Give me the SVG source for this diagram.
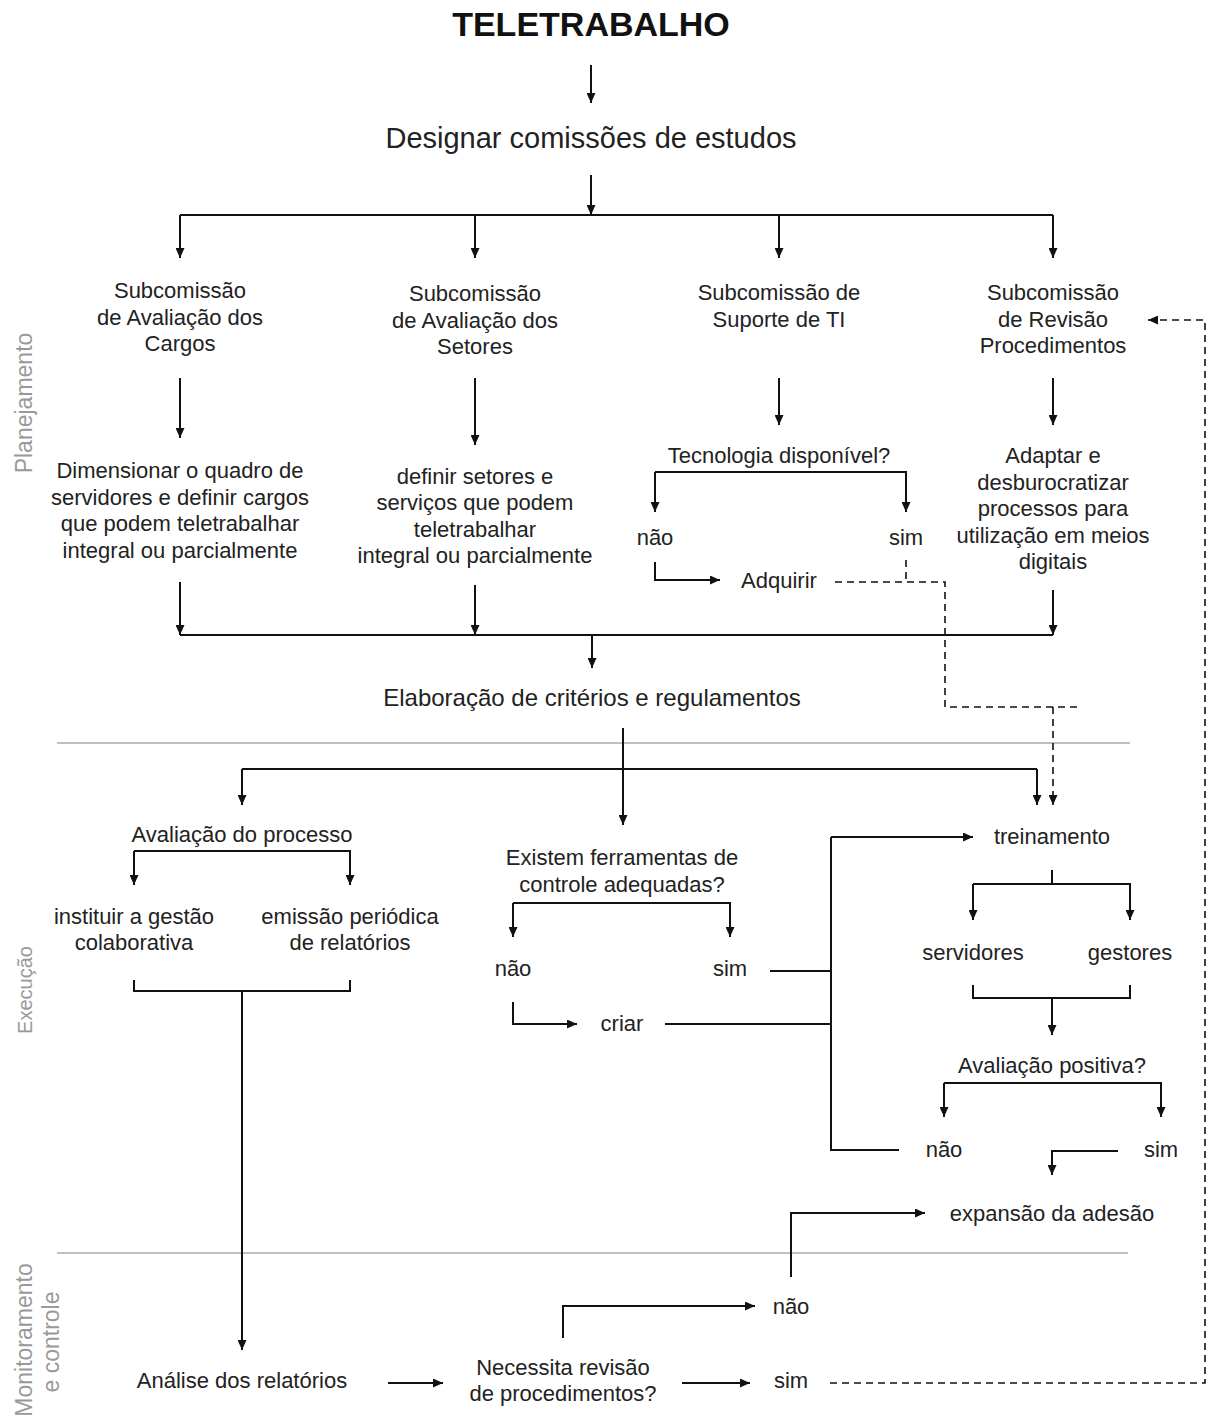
<svg xmlns="http://www.w3.org/2000/svg" width="1210" height="1428" viewBox="0 0 1210 1428">
<defs>
<style>
text{font-family:"Liberation Sans",Arial,sans-serif;font-size:22px;fill:#222;text-anchor:middle}
.title{font-size:34px;font-weight:bold;fill:#111}
.big{font-size:29px}
.mid{font-size:24px}
.lab{font-size:23px;fill:#999}
.ln{fill:none;stroke:#111;stroke-width:2}
.ar{marker-end:url(#ah)}
.dash{fill:none;stroke:#111;stroke-width:1.6;stroke-dasharray:7,5}
.sep{fill:none;stroke:#aaa;stroke-width:1.3}
</style>
<marker id="ah" markerWidth="10" markerHeight="9" refX="10" refY="4.5" orient="auto" markerUnits="userSpaceOnUse">
<path d="M0,0 L10,4.5 L0,9 z" fill="#111"/>
</marker>
</defs>
<rect width="1210" height="1428" fill="#fff"/>

<g id="labels">
<text class="lab" transform="translate(32,403) rotate(-90)">Planejamento</text>
<text class="lab" transform="translate(32,990) rotate(-90)" style="font-size:20px">Execução</text>
<text class="lab" transform="translate(32,1340) rotate(-90)">Monitoramento</text>
<text class="lab" transform="translate(59,1342) rotate(-90)">e controle</text>
</g>

<g id="title"><text class="title" x="591" y="36">TELETRABALHO</text></g>
<g id="designar"><text class="big" x="591" y="148">Designar comissões de estudos</text></g>

<g id="sub-cargos"><text x="180" y="298">Subcomissão</text><text x="180" y="325">de Avaliação dos</text><text x="180" y="351">Cargos</text></g>
<g id="sub-setores"><text x="475" y="301">Subcomissão</text><text x="475" y="328">de Avaliação dos</text><text x="475" y="354">Setores</text></g>
<g id="sub-ti"><text x="779" y="300">Subcomissão de</text><text x="779" y="327">Suporte de TI</text></g>
<g id="sub-revisao"><text x="1053" y="300">Subcomissão</text><text x="1053" y="327">de Revisão</text><text x="1053" y="353">Procedimentos</text></g>

<g id="dimensionar"><text x="180" y="478">Dimensionar o quadro de</text><text x="180" y="505">servidores e definir cargos</text><text x="180" y="531">que podem teletrabalhar</text><text x="180" y="558">integral ou parcialmente</text></g>
<g id="definir"><text x="475" y="484">definir setores e</text><text x="475" y="510">serviços que podem</text><text x="475" y="537">teletrabalhar</text><text x="475" y="563">integral ou parcialmente</text></g>
<g id="tecnologia"><text x="779" y="463">Tecnologia disponível?</text></g>
<g id="nao-ti"><text x="655" y="545">não</text></g>
<g id="sim-ti"><text x="906" y="545">sim</text></g>
<g id="adquirir"><text x="779" y="588">Adquirir</text></g>
<g id="adaptar"><text x="1053" y="463">Adaptar e</text><text x="1053" y="490">desburocratizar</text><text x="1053" y="516">processos para</text><text x="1053" y="543">utilização em meios</text><text x="1053" y="569">digitais</text></g>

<g id="elaboracao"><text class="mid" x="592" y="706">Elaboração de critérios e regulamentos</text></g>

<g id="avaliacao-processo"><text x="242" y="842">Avaliação do processo</text></g>
<g id="instituir"><text x="134" y="924">instituir a gestão</text><text x="134" y="950">colaborativa</text></g>
<g id="emissao"><text x="350" y="924">emissão periódica</text><text x="350" y="950">de relatórios</text></g>
<g id="existem"><text x="622" y="865">Existem ferramentas de</text><text x="622" y="892">controle adequadas?</text></g>
<g id="nao-ferr"><text x="513" y="976">não</text></g>
<g id="sim-ferr"><text x="730" y="976">sim</text></g>
<g id="criar"><text x="622" y="1031">criar</text></g>
<g id="treinamento"><text x="1052" y="844">treinamento</text></g>
<g id="servidores"><text x="973" y="960">servidores</text></g>
<g id="gestores"><text x="1130" y="960">gestores</text></g>
<g id="avaliacao-positiva"><text x="1052" y="1073">Avaliação positiva?</text></g>
<g id="nao-aval"><text x="944" y="1157">não</text></g>
<g id="sim-aval"><text x="1161" y="1157">sim</text></g>
<g id="expansao"><text x="1052" y="1221">expansão da adesão</text></g>

<g id="nao-rev"><text x="791" y="1314">não</text></g>
<g id="analise"><text x="242" y="1388">Análise dos relatórios</text></g>
<g id="necessita"><text x="563" y="1375">Necessita revisão</text><text x="563" y="1401">de procedimentos?</text></g>
<g id="sim-rev"><text x="791" y="1388">sim</text></g>

<g id="connectors">
<path class="sep" d="M57,743 H1130"/>
<path class="sep" d="M57,1253 H1128"/>
<path class="ln ar" d="M591,65 V103"/>
<path class="ln ar" d="M591,175 V215"/>
<path class="ln" d="M180,215 H1053"/>
<path class="ln ar" d="M180,215 V258"/>
<path class="ln ar" d="M475,215 V258"/>
<path class="ln ar" d="M779,215 V258"/>
<path class="ln ar" d="M1053,215 V258"/>
<path class="ln ar" d="M180,378 V438"/>
<path class="ln ar" d="M475,378 V445"/>
<path class="ln ar" d="M779,378 V425"/>
<path class="ln ar" d="M1053,378 V425"/>
<path class="ln ar" d="M655,472 V512"/>
<path class="ln ar" d="M655,472 H906 V512"/>
<path class="ln ar" d="M655,562 V580 H720"/>
<path class="ln ar" d="M180,582 V635"/>
<path class="ln ar" d="M475,585 V635"/>
<path class="ln ar" d="M1053,590 V635"/>
<path class="ln" d="M180,635 H1053"/>
<path class="ln ar" d="M592,635 V668"/>
<path class="dash" d="M835,582 H945 V707 H1082"/>
<path class="dash" d="M906,560 V582"/>
<path class="dash ar" d="M1053,707 V805"/>
<path class="ln ar" d="M623,728 V825"/>
<path class="ln" d="M242,769 H1037"/>
<path class="ln ar" d="M242,769 V805"/>
<path class="ln ar" d="M1037,769 V805"/>
<path class="ln ar" d="M134,851 V885"/>
<path class="ln ar" d="M134,851 H350 V885"/>
<path class="ln" d="M134,980 V991 H350 V980"/>
<path class="ln ar" d="M242,991 V1350"/>
<path class="ln ar" d="M513,903 V937"/>
<path class="ln ar" d="M513,903 H730 V937"/>
<path class="ln ar" d="M513,1002 V1024 H577"/>
<path class="ln" d="M770,971 H831"/>
<path class="ln" d="M665,1024 H831"/>
<path class="ln" d="M899,1150 H831 V837"/>
<path class="ln ar" d="M831,837 H973"/>
<path class="ln" d="M1052,870 V884"/>
<path class="ln ar" d="M973,884 V920"/>
<path class="ln ar" d="M973,884 H1130 V920"/>
<path class="ln" d="M973,985 V998 H1130 V985"/>
<path class="ln ar" d="M1052,998 V1035"/>
<path class="ln ar" d="M944,1083 V1117"/>
<path class="ln ar" d="M944,1083 H1161 V1117"/>
<path class="ln ar" d="M1118,1151 H1052 V1175"/>
<path class="ln ar" d="M791,1277 V1213 H925"/>
<path class="ln ar" d="M563,1338 V1306 H755"/>
<path class="ln ar" d="M388,1383 H443"/>
<path class="ln ar" d="M682,1383 H750"/>
<path class="dash ar" d="M830,1383 H1205 V320 H1148"/>
</g>
</svg>
